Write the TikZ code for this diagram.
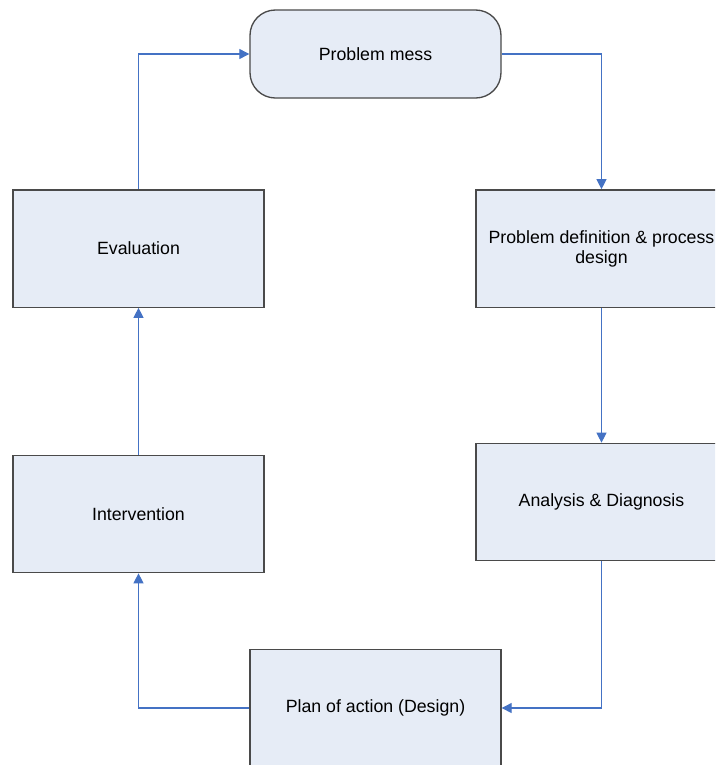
\documentclass[tikz,border=0pt]{standalone}
\usepackage{fontspec}
\setmainfont{Liberation Sans}
\usetikzlibrary{arrows.meta}
\definecolor{boxfill}{HTML}{E6ECF6}
\definecolor{boxline}{HTML}{4A4A4A}
\definecolor{linkblue}{HTML}{4472C4}
\begin{document}
\begin{tikzpicture}[x=0.75pt,y=-0.75pt,
  stagebox/.style={draw=boxline,line width=1pt,fill=boxfill,
    minimum width=188.25pt,minimum height=88pt,inner sep=0pt,
    align=center,font=\fontsize{13.3}{15}\selectfont},
  startbox/.style={stagebox,rounded corners=19pt,minimum height=66pt},
  link/.style={draw=linkblue,line width=0.8pt,
    -{Triangle[length=7.5pt,width=7.5pt]}}]
\useasboundingbox (0,0) rectangle (715,765);
\clip (0,0) rectangle (715,765);
\fill[white] (0,0) rectangle (715,765);

% stages of the cycle
\node[startbox] (mess) at (375.5,54) {Problem mess};
\node[stagebox] (define) at (601.5,248.5) {Problem definition \& process\\design};
\node[stagebox] (analysis) at (601.5,502) {Analysis \& Diagnosis};
\node[stagebox] (plan) at (375.5,708) {Plan of action (Design)};
\node[stagebox] (intervene) at (138.5,514) {Intervention};
\node[stagebox] (evaluate) at (138.5,248.5) {Evaluation};

% connectors around the loop
\draw[link] (mess.east) -| (define.north);
\draw[link] (define.south) -- (analysis.north);
\draw[link] (analysis.south) |- (plan.east);
\draw[link] (plan.west) -| (intervene.south);
\draw[link] (intervene.north) -- (evaluate.south);
\draw[link] (evaluate.north) |- (mess.west);
\end{tikzpicture}
\end{document}
